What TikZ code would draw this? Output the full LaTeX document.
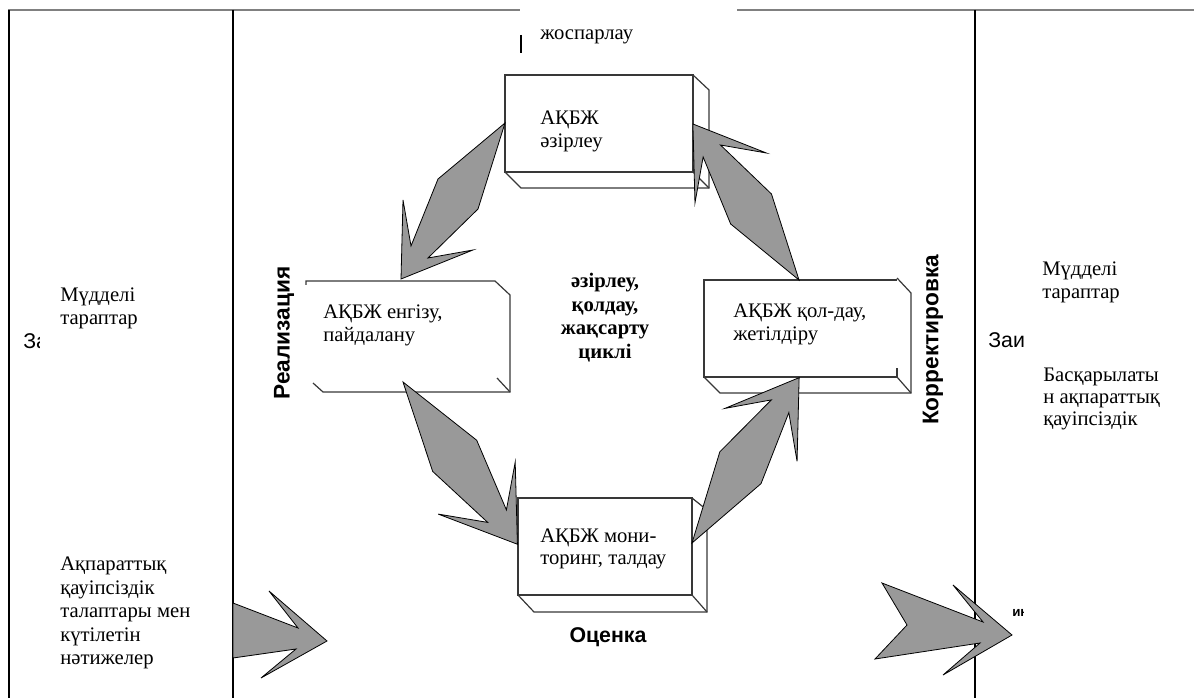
\documentclass[tikz,border=0pt]{standalone}
\usepackage{fontspec}
\setmainfont{Liberation Serif}
\newfontfamily\arialf{Liberation Sans}
\definecolor{arrgray}{HTML}{999999}
\definecolor{topgray}{HTML}{808080}
\definecolor{boxline}{HTML}{383838}
\tikzset{
  boxst/.style={draw=boxline, line width=0.9pt, line join=miter},
  arrowfill/.style={fill=arrgray, draw=black, line width=0.6pt, line join=miter},
  txt/.style={anchor=base west, inner sep=0pt, font=\fontsize{15.5}{18}\selectfont},
  ctxt/.style={anchor=base, inner sep=0pt, font=\fontsize{15.5}{18}\selectfont\bfseries},
  sflab/.style={inner sep=0pt, font=\arialf\fontsize{17}{20}\selectfont\bfseries},
  sfreg/.style={anchor=base west, inner sep=0pt, font=\arialf\fontsize{16}{19}\selectfont},
  frameline/.style={line width=1.2pt}
}
\begin{document}
\begin{tikzpicture}[x=0.75pt,y=-0.75pt]
\useasboundingbox (0,0) rectangle (1194,698);
% frame
\draw[topgray, line width=1.5pt] (8,10) -- (520,10);
\draw[topgray, line width=1.5pt] (737,10) -- (1194,10);
\draw[frameline] (9,10) -- (9,698);
\draw[frameline] (233,10) -- (233,698);
\draw[frameline] (975,10) -- (975,698);
\draw[line width=0.9pt] (521,35) -- (521,53);

% top box
\fill[white] (505,75) -- (693,75) -- (709,90) -- (709,188) -- (521,188) -- (505,172) -- cycle;
\draw[boxst] (505,75) rectangle (693,172);
\draw[boxst] (693,75) -- (709,90) -- (709,188) -- (521,188) -- (505,172);
\draw[boxst] (693,172) -- (709,188);

% left box
\fill[white] (306,281) -- (495,281) -- (510,295) -- (510,392) -- (323,392) -- (306,378) -- cycle;
\draw[boxst] (306,285) -- (306,281) -- (495,281) -- (510,295) -- (510,392) -- (323,392) -- (313,383);
\draw[boxst] (497,378) -- (510,392);

% right box
\fill[white] (704,280) -- (897,280) -- (911,293) -- (911,393) -- (720,393) -- (704,377) -- cycle;
\draw[boxst] (897,280) -- (704,280) -- (704,377) -- (897,377) -- (897,368);
\draw[boxst] (897,278) -- (911,293) -- (911,393) -- (720,393) -- (704,377);
\draw[boxst] (897,377) -- (911,393);

% bottom box
\fill[white] (518,498) -- (692,498) -- (707,510) -- (707,612) -- (534,612) -- (518,595) -- cycle;
\draw[boxst] (518,498) rectangle (692,595);
\draw[boxst] (692,498) -- (707,510) -- (707,612) -- (534,612) -- (518,595);
\draw[boxst] (692,595) -- (707,612);

% cycle arrows
\begin{scope}[shift={(505,123)}]
  \filldraw[arrowfill] (0,0) -- (-67,56) -- (-94,123) -- (-102,77) -- (-104,156) -- (-32,127) -- (-77,135) -- (-27,86) -- cycle;
\end{scope}
\begin{scope}[shift={(403,382)}, xscale=-1.1, yscale=1.04]
  \filldraw[arrowfill] (0,0) -- (-67,56) -- (-94,123) -- (-102,77) -- (-104,156) -- (-32,127) -- (-77,135) -- (-27,86) -- cycle;
\end{scope}
\begin{scope}[shift={(692,543)}, xscale=-1.03, yscale=-1.06]
  \filldraw[arrowfill] (0,0) -- (-67,56) -- (-94,123) -- (-102,77) -- (-104,156) -- (-32,127) -- (-77,135) -- (-27,86) -- cycle;
\end{scope}
\begin{scope}[shift={(799,280)}, xscale=1.02, yscale=-1.0]
  \filldraw[arrowfill] (0,0) -- (-67,56) -- (-94,123) -- (-102,77) -- (-104,156) -- (-32,127) -- (-77,135) -- (-27,86) -- cycle;
\end{scope}

% big bottom arrows
\filldraw[arrowfill] (233,603) -- (298,628) -- (269,591) -- (327,641) -- (261,678) -- (296,649) -- (233,658) -- cycle;
\filldraw[arrowfill] (882,583) -- (983,622) -- (953,585) -- (1012,635) -- (943,675) -- (980,643) -- (875,659) -- (907,625) -- cycle;

% box texts
\node[txt] (plan) at (540,40) {жоспарлау};
\node[txt] (t1a) at (540,125) {АҚБЖ};
\node[txt] (t1b) at (540,148) {әзірлеу};
\node[txt] (t2a) at (323,318) {АҚБЖ енгізу,};
\node[txt] (t2b) at (323,341) {пайдалану};
\node[txt] (t3a) at (733,317) {АҚБЖ қол-дау,};
\node[txt] (t3b) at (733,340) {жетілдіру};
\node[txt] (t4a) at (540,542) {АҚБЖ мони-};
\node[txt] (t4b) at (540,564) {торинг, талдау};

% centre
\node[ctxt] (c1) at (605,287) {әзірлеу,};
\node[ctxt] (c2) at (605,311) {қолдау,};
\node[ctxt] (c3) at (605,334) {жақсарту};
\node[ctxt] (c4) at (605,358) {циклі};

% side labels
\node[sflab, rotate=90] (real) at (284,333) {Реализация};
\node[sflab, rotate=90] (korr) at (933,340) {Корректировка};
\node[sflab, font=\arialf\fontsize{16}{19}\selectfont\bfseries] (otsenka) at (608,637) {Оценка};

% left column
\node[txt] (l1a) at (60,301) {Мүдделі};
\node[txt] (l1b) at (60,325) {тараптар};
\node[txt] (l2a) at (60,570) {Ақпараттық};
\node[txt] (l2b) at (60,594) {қауіпсіздік};
\node[txt] (l2c) at (60,617) {талаптары мен};
\node[txt] (l2d) at (60,641) {күтілетін};
\node[txt] (l2e) at (60,664) {нәтижелер};

% right column
\node[txt] (r1a) at (1042,276) {Мүдделі};
\node[txt] (r1b) at (1042,299) {тараптар};
\node[txt] (r2a) at (1043,381) {Басқарылаты};
\node[txt] (r2b) at (1043,403) {н ақпараттық};
\node[txt] (r2c) at (1043,425) {қауіпсіздік};

% clipped fragments
\begin{scope}
  \clip (15,320) rectangle (39,360);
  \node[sfreg] (za) at (23,348) {За};
\end{scope}
\begin{scope}
  \clip (980,320) rectangle (1027,360);
  \node[sfreg] (zai) at (988,347) {Заи};
\end{scope}
\begin{scope}
  \clip (1008,600) rectangle (1023,620);
  \node[sfreg, font=\arialf\fontsize{10}{12}\selectfont\bfseries] (in) at (1012,616) {ин};
\end{scope}
\end{tikzpicture}
\end{document}
